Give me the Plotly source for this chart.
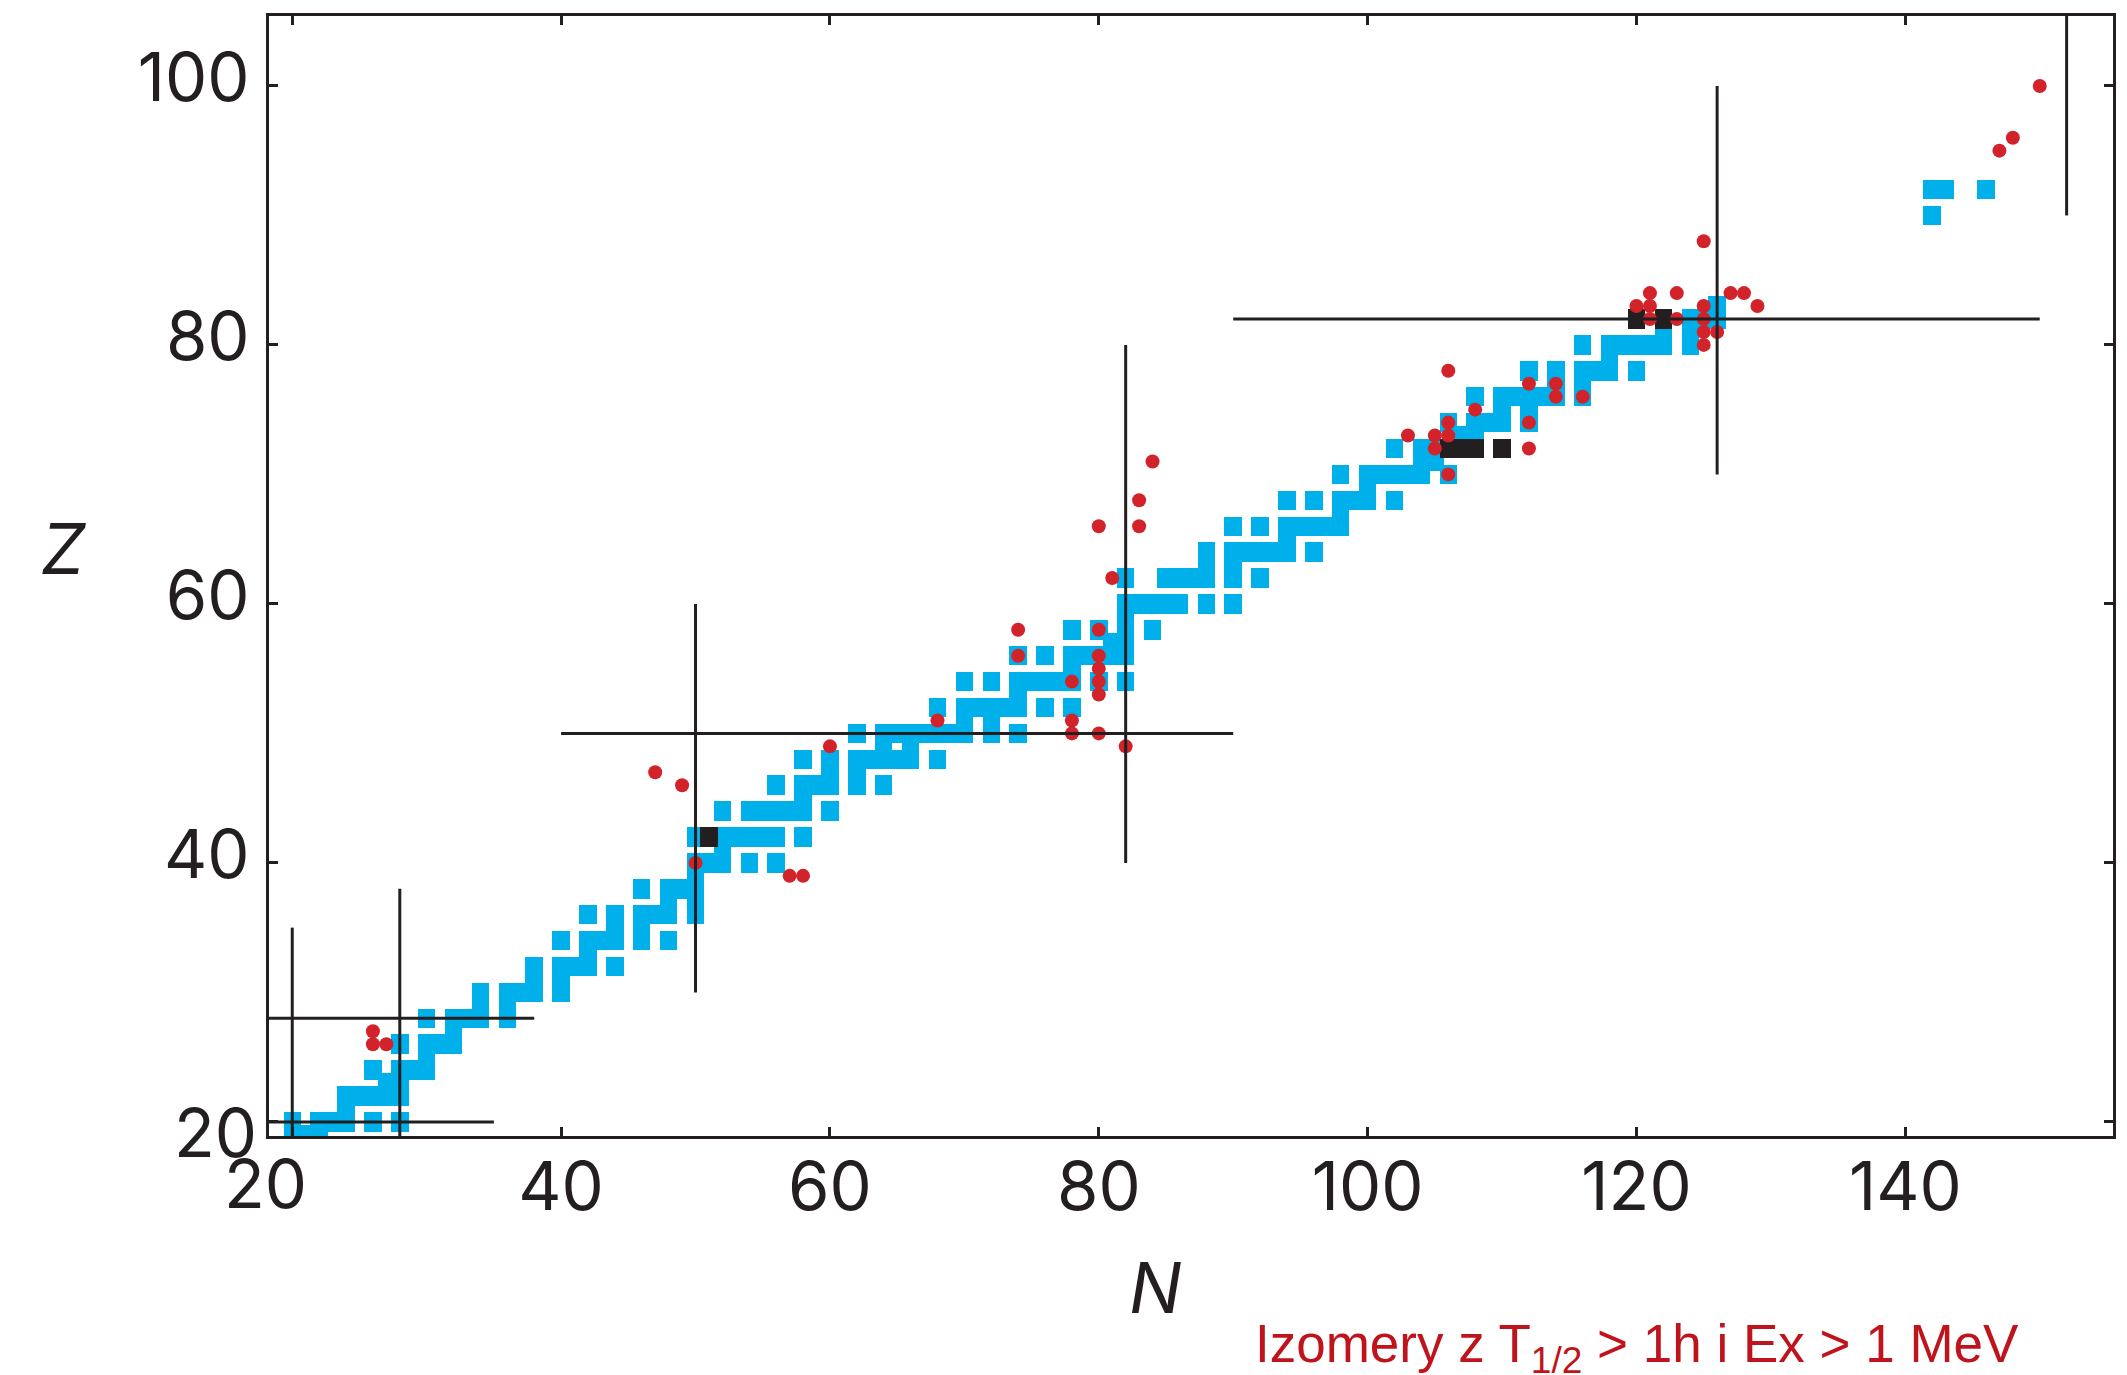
import plotly.graph_objects as go

# ---- stable / primordial nuclides (blue squares): Z -> list of N ----
stable_N_by_Z = {
    19: [20, 21, 22],
    20: [20, 22, 23, 24, 26, 28],
    21: [24],
    22: [24, 25, 26, 27, 28],
    23: [27, 28],
    24: [26, 28, 29, 30],
    25: [30],
    26: [28, 30, 31, 32],
    27: [32],
    28: [30, 32, 33, 34, 36],
    29: [34, 36],
    30: [34, 36, 37, 38, 40],
    31: [38, 40],
    32: [38, 40, 41, 42, 44],
    33: [42],
    34: [40, 42, 43, 44, 46, 48],
    35: [44, 46],
    36: [42, 44, 46, 47, 48, 50],
    37: [48, 50],
    38: [46, 48, 49, 50],
    39: [50],
    40: [50, 51, 52, 54, 56],
    41: [52],
    42: [50, 52, 53, 54, 55, 56, 58],
    44: [52, 54, 55, 56, 57, 58, 60],
    45: [58],
    46: [56, 58, 59, 60, 62, 64],
    47: [60, 62],
    48: [58, 60, 62, 63, 64, 65, 66, 68],
    49: [64, 66],
    50: [62, 64, 65, 66, 67, 68, 69, 70, 72, 74],
    51: [70, 72],
    52: [68, 70, 71, 72, 73, 74, 76, 78],
    53: [74],
    54: [70, 72, 74, 75, 76, 77, 78, 80, 82],
    55: [78],
    56: [74, 76, 78, 79, 80, 81, 82],
    57: [81, 82],
    58: [78, 80, 82, 84],
    59: [82],
    60: [82, 83, 84, 85, 86, 88, 90],
    62: [82, 85, 86, 87, 88, 90, 92],
    63: [88, 90],
    64: [88, 90, 91, 92, 93, 94, 96],
    65: [94],
    66: [90, 92, 94, 95, 96, 97, 98],
    67: [98],
    68: [94, 96, 98, 99, 100, 102],
    69: [100],
    70: [98, 100, 101, 102, 103, 104, 106],
    71: [104, 105],
    72: [102, 104, 105, 106, 107, 108],
    73: [107, 108],
    74: [106, 108, 109, 110, 112],
    75: [110, 112],
    76: [108, 110, 111, 112, 113, 114, 116],
    77: [114, 116],
    78: [112, 114, 116, 117, 118, 120],
    79: [118],
    80: [116, 118, 119, 120, 121, 122, 124],
    81: [122, 124],
    82: [122, 124, 125, 126],
    83: [126],
    90: [142],
    92: [142, 143, 146],
}

# ---- isomers with T1/2 > 1 h and Ex > 1 MeV (red dots) ----
iso_N = [26, 26, 27,
         47, 49, 50, 57, 58, 60,
         68, 74, 74, 78, 78, 78, 80, 80, 80, 80, 80, 80, 80, 81, 82, 83, 83, 84,
         103, 105, 105, 106, 106, 106, 106, 108,
         112, 112, 112, 114, 114, 116,
         120, 121, 121, 121, 123, 123, 125, 125, 125, 125, 125, 126, 127, 128, 129,
         147, 148, 150]
iso_Z = [27, 26, 26,
         47, 46, 40, 39, 39, 49,
         51, 58, 56, 54, 51, 50, 66, 58, 56, 55, 54, 53, 50, 62, 49, 68, 66, 71,
         73, 73, 72, 78, 74, 73, 70, 75,
         77, 74, 72, 77, 76, 76,
         83, 84, 83, 82, 84, 82, 88, 83, 82, 81, 80, 81, 84, 84, 83,
         95, 96, 100]

# ---- black squares ----
black_N = [51, 106, 107, 108, 110, 120, 122]
black_Z = [42, 72, 72, 72, 72, 82, 82]

# ---- magic-number guide lines ----
hline_Z = [20, 28, 50, 82]
hline_N_from = [18, 18, 40, 90]
hline_N_to = [35, 38, 90, 150]
vline_N = [20, 28, 50, 82, 126, 152]
vline_Z_from = [18, 18, 30, 40, 70, 90]
vline_Z_to = [35, 38, 60, 80, 100, 107]

# ---- axes ----
x_range = [18.27, 155.45]
y_range = [18.91, 105.4]
x_ticks = [20, 40, 60, 80, 100, 120, 140]
y_ticks = [20, 40, 60, 80, 100]

BLUE = "#00b0eb"
RED = "#d2232a"
DARK = "#231f20"
SQ_W = 1.3
SQ_H = 1.5

st_N, st_Z = [], []
for z, ns in stable_N_by_Z.items():
    for n in ns:
        st_N.append(n)
        st_Z.append(z)

fig = go.Figure()
fig.add_trace(go.Bar(
    x=st_N, y=[SQ_H] * len(st_N), base=[z - SQ_H / 2 for z in st_Z],
    width=SQ_W, marker=dict(color=BLUE, line=dict(width=0)), showlegend=False,
    hoverinfo="skip"))
fig.add_trace(go.Bar(
    x=black_N, y=[SQ_H] * len(black_N), base=[z - SQ_H / 2 for z in black_Z],
    width=SQ_W, marker=dict(color=DARK, line=dict(width=0)), showlegend=False,
    hoverinfo="skip"))
fig.add_trace(go.Scatter(
    x=iso_N, y=iso_Z, mode="markers",
    marker=dict(symbol="circle", size=14, color=RED, line=dict(width=0)),
    showlegend=False, hoverinfo="skip"))

for z, a, b in zip(hline_Z, hline_N_from, hline_N_to):
    fig.add_shape(type="line", xref="x", yref="y", x0=a, x1=b, y0=z, y1=z,
                  line=dict(color=DARK, width=3), layer="above")
for n, a, b in zip(vline_N, vline_Z_from, vline_Z_to):
    fig.add_shape(type="line", xref="x", yref="y", x0=n, x1=n, y0=a, y1=b,
                  line=dict(color=DARK, width=3), layer="above")

TICK_FONT = dict(family="Inter, Liberation Sans, Arial", size=67, color=DARK)

fig.update_xaxes(range=x_range, tickvals=x_ticks,
                 ticktext=[""] + [str(v) for v in x_ticks[1:]],
                 ticks="inside", ticklen=9, tickwidth=3, tickcolor=DARK,
                 showline=True, linewidth=3, linecolor=DARK, mirror="ticks",
                 showgrid=False, zeroline=False, tickfont=TICK_FONT,
                 ticklabelstandoff=-9)
fig.update_yaxes(range=y_range, tickvals=y_ticks,
                 ticktext=[""] + [str(v) for v in y_ticks[1:]],
                 ticks="inside", ticklen=9, tickwidth=3, tickcolor=DARK,
                 showline=True, linewidth=3, linecolor=DARK, mirror="ticks",
                 showgrid=False, zeroline=False, tickfont=TICK_FONT,
                 ticklabelstandoff=3, ticklabelshift=-8)

ann = [
    dict(text="<i>Z</i>", x=-0.1117, y=0.525, font=dict(family="Inter, Liberation Sans", size=70, color=DARK)),
    dict(text="<i>N</i>", x=0.4805, y=-0.1357, font=dict(family="Inter, Liberation Sans", size=70, color=DARK)),
    dict(text="20", x=-0.029, y=0.0031, font=TICK_FONT),
    dict(text="20", x=-0.0019, y=-0.042, font=TICK_FONT),
    dict(text="Izomery z T<sub>1/2</sub> > 1h i Ex > 1 MeV", x=0.7419, y=-0.189,
         font=dict(family="Liberation Sans, Arial", size=53, color="#c0141c")),
]
for a in ann:
    fig.add_annotation(xref="paper", yref="paper", xanchor="center", yanchor="middle",
                       showarrow=False, **a)

fig.update_layout(
    width=2127, height=1375, barmode="overlay", bargap=0,
    margin=dict(l=269, r=14, t=16, b=239, autoexpand=False),
    paper_bgcolor="white", plot_bgcolor="white",
)
fig.write_html("out.html")
